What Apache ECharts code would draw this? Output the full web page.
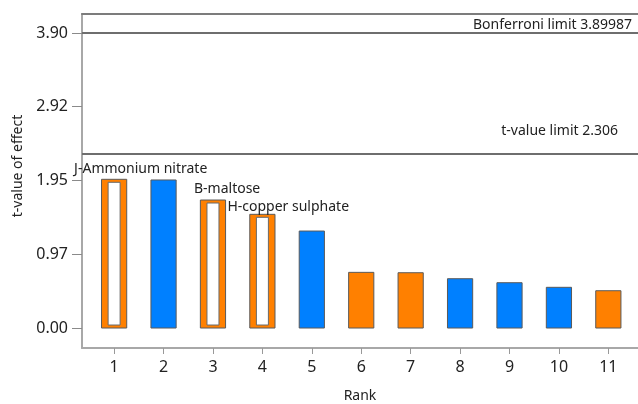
<!DOCTYPE html>
<html>
<head>
  <meta charset="utf-8" />
  <title>ECharts</title>
  <script src="https://cdn.jsdelivr.net/npm/echarts@6/dist/echarts.min.js"></script>
  <style>
    html, body { margin: 0; padding: 0; background: #fff; }
  </style>
</head>
<body>
<div id="main" style="width: 638px;height:404px;"></div>
<script type="text/javascript">
  // data
  var ranks = [1, 2, 3, 4, 5, 6, 7, 8, 9, 10, 11];
  var tValues = [1.966, 1.957, 1.692, 1.503, 1.282, 0.736, 0.731, 0.652, 0.599, 0.538, 0.493];
  var effectGroup = ['a', 'b', 'a', 'a', 'b', 'a', 'a', 'b', 'b', 'b', 'a'];
  var effectNames = ['J-Ammonium nitrate', '', 'B-maltose', 'H-copper sulphate', '', '', '', '', '', '', ''];
  var yTickValues = [0, 0.975, 1.95, 2.925, 3.9];
  var yTickLabels = ['0.00', '0.97', '1.95', '2.92', '3.90'];
  var limitNames = ['Bonferroni limit 3.89987', 't-value limit 2.306'];
  var limitValues = [3.89987, 2.306];

  // look
  var groupColor = { a: '#ff8000', b: '#0080ff' };
  var labelOffset = [[-40, -10], [0, 0], [-19, -11], [-35, -7]];
  var font = 'Noto Sans';

  var chartDom = document.getElementById('main');
  var myChart = echarts.init(chartDom);
  var option;

  var barData = [];
  for (var i = 0; i < ranks.length; i++) {
    barData.push([ranks[i], tValues[i]]);
  }

  function renderBar(params, api) {
    var i = params.dataIndex;
    var top = api.coord([api.value(0), api.value(1)]);
    var base = api.coord([api.value(0), 0]);
    var w = api.size([1, 0])[0] * 0.51;
    var h = base[1] - top[1];
    var kids = [{
      type: 'rect',
      shape: { x: top[0] - w / 2, y: top[1], width: w, height: h },
      style: { fill: groupColor[effectGroup[i]], stroke: '#5a5a5a', lineWidth: 1 }
    }];
    if (effectNames[i]) {
      // labelled effects are drawn hollow
      kids.push({
        type: 'rect',
        shape: { x: top[0] - 6, y: top[1] + 3, width: 12, height: h - 6 },
        style: { fill: '#fff', stroke: '#6a6a6a', lineWidth: 1 }
      });
      var off = labelOffset[i];
      kids.push({
        type: 'text',
        x: top[0] + off[0],
        y: top[1] + off[1],
        style: {
          text: effectNames[i],
          font: '14px "' + font + '"',
          fill: '#222',
          align: 'left',
          verticalAlign: 'middle'
        },
        z2: 10
      });
    }
    return { type: 'group', children: kids };
  }

  var lineData = [];
  for (var k = 0; k < limitValues.length; k++) {
    lineData.push({
      yAxis: limitValues[k],
      label: {
        formatter: limitNames[k],
        distance: k == 0 ? 1 : 15
      }
    });
  }

  option = {
    animation: false,
    textStyle: { fontFamily: font },
    grid: { left: 82, right: 0, top: 14, bottom: 56, outerBoundsMode: 'none', containLabel: false },
    xAxis: [
      {
        type: 'value',
        min: 0.35,
        max: 11.6,
        name: 'Rank',
        nameLocation: 'middle',
        nameGap: 41,
        nameTextStyle: { fontSize: 14, color: '#222' },
        splitLine: { show: false },
        axisLine: { onZero: false, lineStyle: { color: '#a8a8a8', width: 2 } },
        axisTick: { customValues: ranks, length: 6, lineStyle: { color: '#999' } },
        axisLabel: { customValues: ranks, fontSize: 16, color: '#222', margin: 11 }
      },
      {
        type: 'value',
        position: 'top',
        min: 0.35,
        max: 11.6,
        splitLine: { show: false },
        axisLine: { show: true, onZero: false, lineStyle: { color: '#7c7c7c', width: 2 } },
        axisTick: { show: false },
        axisLabel: { show: false }
      }
    ],
    yAxis: {
      type: 'value',
      min: -0.264,
      max: 4.151,
      splitLine: { show: false },
      axisLine: { show: true, onZero: false, lineStyle: { color: '#a8a8a8', width: 2 } },
      axisTick: { show: true, customValues: yTickValues, length: 10, lineStyle: { color: '#8a8a8a' } },
      axisLabel: {
        customValues: yTickValues,
        fontSize: 16,
        color: '#222',
        margin: 14,
        formatter: function (v) {
          for (var j = 0; j < yTickValues.length; j++) {
            if (Math.abs(yTickValues[j] - v) < 1e-6) return yTickLabels[j];
          }
          return '';
        }
      }
    },
    graphic: [{
      type: 'text',
      x: 18,
      y: 166,
      rotation: Math.PI / 2,
      style: {
        text: 't-value of effect',
        font: '14px "' + font + '"',
        fill: '#222',
        align: 'center',
        verticalAlign: 'middle'
      }
    }],
    series: [
      {
        type: 'custom',
        renderItem: renderBar,
        data: barData,
        encode: { x: 0, y: 1 },
        markLine: {
          silent: true,
          symbol: 'none',
          lineStyle: { color: '#6e6e6e', width: 2, type: 'solid' },
          label: {
            position: 'insideEndTop',
            fontSize: 14,
            color: '#222',
            padding: [0, 5, 0, 0]
          },
          data: lineData
        }
      }
    ]
  };

  option && myChart.setOption(option);
</script>
</body>
</html>
